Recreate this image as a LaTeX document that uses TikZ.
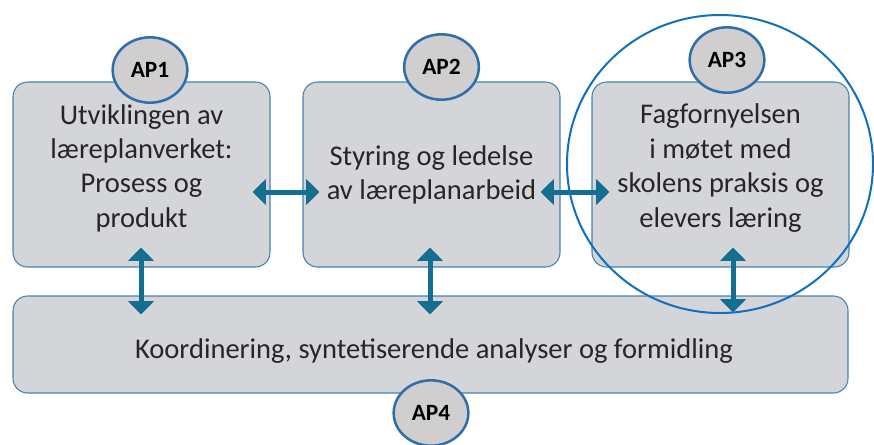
\documentclass[tikz,border=0pt]{standalone}
\usepackage{fontspec}
\setmainfont{Carlito}
\usetikzlibrary{arrows.meta,calc,shapes.geometric}
\definecolor{boxfill}{RGB}{212,213,216}
\definecolor{boxline}{RGB}{70,130,170}
\definecolor{apfill}{RGB}{208,206,206}
\definecolor{apline}{RGB}{46,110,170}
\definecolor{arrowc}{RGB}{20,110,145}
\definecolor{ringc}{RGB}{16,112,192}
\definecolor{txt}{RGB}{38,38,38}
\begin{document}
\begin{tikzpicture}[x=0.75pt,y=-0.75pt,
  box/.style={draw=boxline,line width=0.8pt,fill=boxfill,rounded corners=11pt,
    minimum width=192.75pt,minimum height=138.75pt,inner sep=0pt},
  boxtext/.style={align=center,text=txt,font=\fontsize{21.4}{25.8}\selectfont,inner sep=0pt},
  ap/.style={ellipse,draw=apline,line width=1.9pt,fill=apfill,minimum width=56pt,
    minimum height=49pt,inner sep=0pt,font=\bfseries\fontsize{17.5}{20}\selectfont,text=black},
  dbl/.style={arrowc,line width=3.75pt,{Triangle[width=19pt,length=10pt]}-{Triangle[width=19pt,length=10pt]}}
]
\useasboundingbox (0,0) rectangle (874,444);
\node[box] (b1) at (141.5,174.5) {};
\node[box] (b2) at (431.5,174.5) {};
\node[box] (b3) at (720.5,174.5) {};
\node[box,minimum width=626.25pt,minimum height=72.75pt] (b4) at (430.5,344.5) {};
\node[boxtext] (t1) at (141.5,168) {Utviklingen av\\læreplanverket:\\Prosess og\\produkt};
\node[boxtext] (t2) at (431.5,175) {Styring og ledelse\\av læreplanarbeid};
\node[boxtext] (t3) at (720.5,168) {Fagfornyelsen\\i møtet med\\skolens praksis og\\elevers læring};
\node[boxtext] (t4) at (434,351) {Koordinering, syntetiserende analyser og formidling};
% arrows
\draw[dbl] ($(b1.east)+(-18,17.5)$) -- ($(b2.west)+(17,17.5)$);
\draw[dbl] ($(b2.east)+(-20,17.5)$) -- ($(b3.west)+(18,17.5)$);
\draw[dbl] ($(b1.south)+(-0.5,-20)$) -- ($(b1.south |- b4.north)+(-0.5,19)$);
\draw[dbl] ($(b2.south)+(-1.5,-20)$) -- ($(b2.south |- b4.north)+(-1.5,19)$);
\draw[dbl] ($(b3.south)+(12.5,-20)$) -- ($(b3.south |- b4.north)+(12.5,17)$);
% AP labels
\node[ap] (ap1) at (150,70) {AP1};
\node[ap] (ap2) at (441.5,67) {AP2};
\node[ap] (ap3) at (727,60) {AP3};
\node[ap] (ap4) at (431,413) {AP4};
% ring
\node[ellipse,draw=ringc,line width=1.5pt,minimum width=229.5pt,minimum height=223.5pt,inner sep=0pt] (ring) at (720,164) {};
\end{tikzpicture}
\end{document}
